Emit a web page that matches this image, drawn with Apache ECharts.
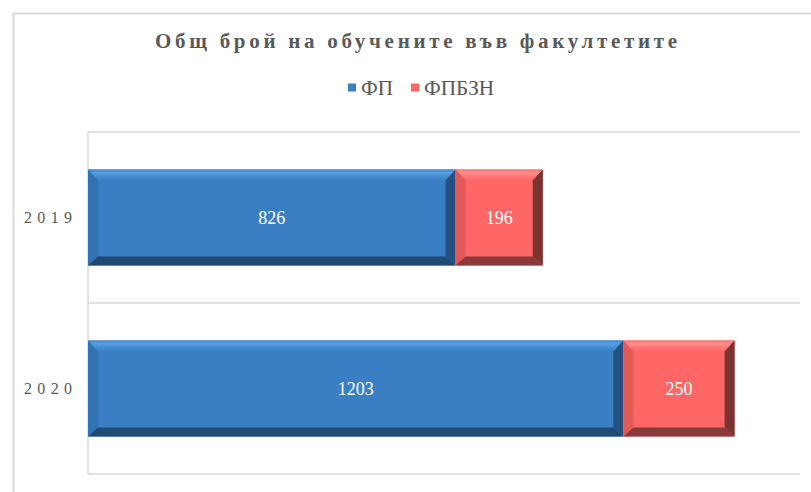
<!DOCTYPE html>
<html>
<head>
<meta charset="utf-8">
<script src="https://cdn.jsdelivr.net/npm/echarts@6/dist/echarts.min.js"></script>
<style>
html,body{margin:0;padding:0;background:#fff;}
#chart{width:811px;height:492px;}
</style>
</head>
<body>
<div id="chart"></div>
<script>
// ---- data ----
const titleText = 'Общ брой на обучените във факултетите';
const categories = ['2019', '2020'];
const seriesNames = ['ФП', 'ФПБЗН'];
const fpValues = [826, 1203];
const fpbznValues = [196, 250];
const xMax = 1600;

// ---- styling helpers ----
const serif = 'Liberation Serif';
function measure(text, font) {
  const c = document.createElement('canvas').getContext('2d');
  c.font = font;
  return c.measureText(text).width;
}
const titleSize = 21;
const titleSpacing = (522 - measure(titleText, 'bold ' + titleSize + 'px "Liberation Serif"')) / (titleText.length - 1);
const yearSize = 16;
const yearSpacing = (48 - measure('2019', yearSize + 'px "Liberation Serif"')) / 3;
const legendSize = Math.round(15 * 70 / measure('ФПБЗН', '15px "Liberation Serif"') * 10) / 10;
const legendGap = 411 - (361 + measure('ФП', legendSize + 'px "Liberation Serif"'));
const labelSize = 18;

const palettes = {
  blue: {base: '#3a7fc4', topA: '#3f87cd', topHi: '#56a0e2', topB: '#4890d4', left: '#3372b1', bottom: '#1f4a72', right: '#24517f'},
  red: {base: '#ff6666', topA: '#ff7070', topHi: '#ff9090', topB: '#ff7b7b', left: '#e25959', bottom: '#8a3a3a', right: '#7a3232'}
};

function makeRender(pal) {
  return function (params, api) {
    const cat = api.value(0);
    const s = api.coord([api.value(1), cat]);
    const e = api.coord([api.value(2), cat]);
    const bandH = api.size([0, 1])[1];
    const h = bandH * 0.562;
    const x0 = s[0], x1 = e[0], y0 = s[1] - h / 2, y1 = s[1] + h / 2;
    const b = 10, bt = 11, bb = 9;
    return {
      type: 'group',
      children: [
        {type: 'rect', shape: {x: x0, y: y0, width: x1 - x0, height: h}, style: {fill: pal.base}},
        {type: 'polygon', shape: {points: [[x0, y0], [x1, y0], [x1 - b, y0 + bt], [x0 + b, y0 + bt]]},
          style: {fill: {type: 'linear', x: 0, y: 0, x2: 0, y2: 1, colorStops: [
            {offset: 0, color: pal.topA}, {offset: 0.3, color: pal.topHi}, {offset: 0.55, color: pal.topB}, {offset: 1, color: pal.base}]}}},
        {type: 'polygon', shape: {points: [[x0, y0], [x0 + b, y0 + bt], [x0 + b, y1 - bb], [x0, y1]]}, style: {fill: pal.left}},
        {type: 'polygon', shape: {points: [[x0, y1], [x0 + b, y1 - bb], [x1 - b, y1 - bb], [x1, y1]]}, style: {fill: pal.bottom}},
        {type: 'polygon', shape: {points: [[x1, y0], [x1, y1], [x1 - b, y1 - bb], [x1 - b, y0 + bt]]}, style: {fill: pal.right}},
        {type: 'text', x: (x0 + x1) / 2, y: s[1], style: {
          text: String(api.value(3)), fill: '#ffffff', fontFamily: serif, fontSize: labelSize, align: 'center', verticalAlign: 'middle'}}
      ]
    };
  };
}

const fpData = fpValues.map((v, i) => [i, 0, v, v]);
const fpbznData = fpbznValues.map((v, i) => [i, fpValues[i], fpValues[i] + v, v]);

const chart = echarts.init(document.getElementById('chart'), null, {renderer: 'svg'});
const option = {
  animation: false,
  backgroundColor: '#ffffff',
  textStyle: {fontFamily: serif},
  graphic: [{
    type: 'rect', left: 11, top: 11, silent: true, z: -10,
    shape: {x: 0, y: 0, width: 1200, height: 1200},
    style: {fill: 'none', stroke: '#d9d9d9', lineWidth: 2}
  }],
  title: {
    text: titleText, left: 155, top: 30, padding: 0,
    textStyle: {fontFamily: serif, fontWeight: 'bold', fontSize: titleSize, color: '#595959'}
  },
  legend: {
    data: seriesNames, left: 348, top: Math.round(90 - legendSize * 0.6), padding: 0,
    itemWidth: 8, itemHeight: 8, itemGap: legendGap, icon: 'rect',
    textStyle: {fontFamily: serif, fontSize: legendSize, color: '#595959'}
  },
  grid: {left: 88, right: 11, top: 132, bottom: 18, containLabel: false},
  xAxis: {
    type: 'value', min: 0, max: xMax, show: true,
    axisLine: {show: false}, axisTick: {show: false}, axisLabel: {show: false}, splitLine: {show: false}
  },
  yAxis: {
    type: 'category', data: categories, inverse: true,
    axisLine: {show: true, lineStyle: {color: '#d9d9d9', width: 1.5}},
    axisTick: {show: false},
    splitLine: {show: true, lineStyle: {color: '#d9d9d9', width: 1.5}},
    axisLabel: {fontFamily: serif, fontSize: yearSize, color: '#595959', margin: 16 - yearSpacing}
  },
  series: [
    {name: seriesNames[0], type: 'custom', renderItem: makeRender(palettes.blue), data: fpData,
      encode: {x: [1, 2], y: 0}, itemStyle: {color: palettes.blue.base}},
    {name: seriesNames[1], type: 'custom', renderItem: makeRender(palettes.red), data: fpbznData,
      encode: {x: [1, 2], y: 0}, itemStyle: {color: palettes.red.base}}
  ]
};
chart.setOption(option);

function applySpacing() {
  document.querySelectorAll('#chart text').forEach(t => {
    const s = t.textContent;
    if (s === titleText) t.setAttribute('letter-spacing', titleSpacing.toFixed(2));
    else if (categories.includes(s)) t.setAttribute('letter-spacing', yearSpacing.toFixed(2));
  });
}
chart.on('finished', applySpacing);
applySpacing();
</script>
</body>
</html>
